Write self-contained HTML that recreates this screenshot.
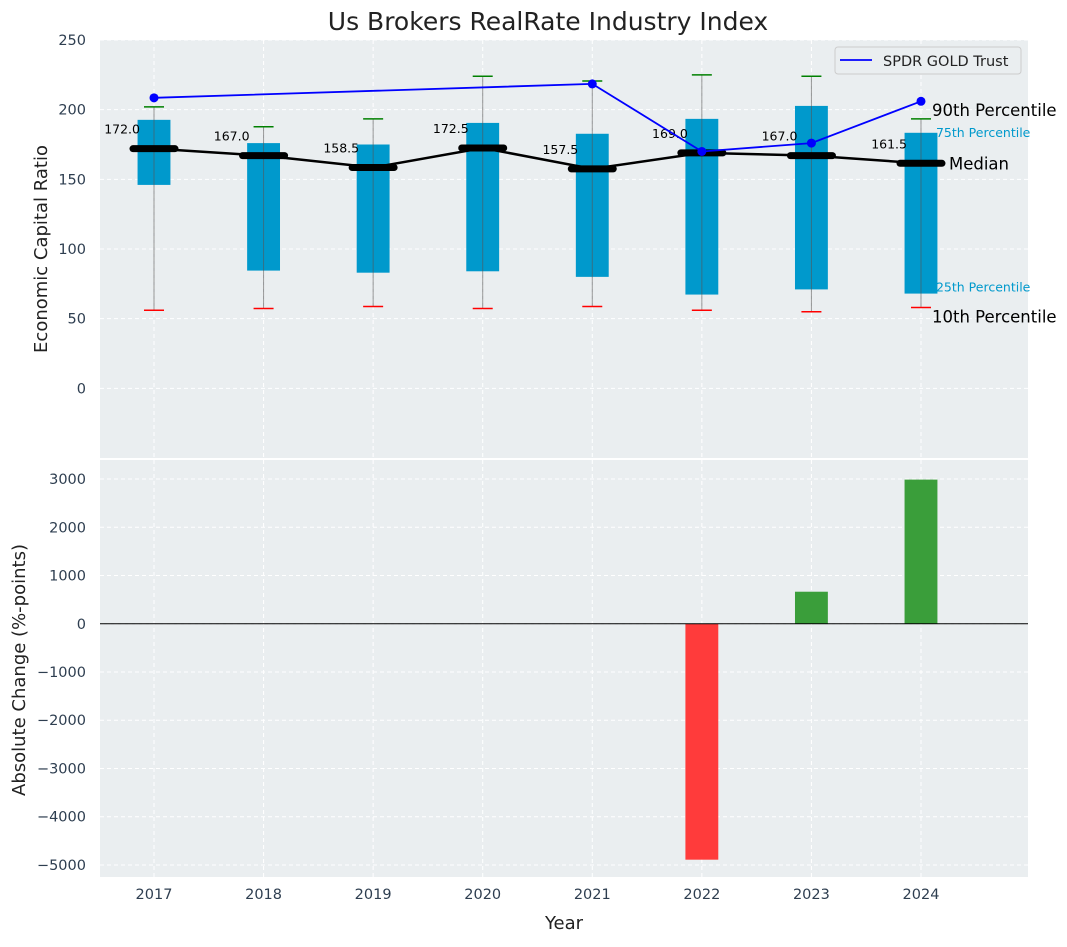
<!DOCTYPE html>
<html><head><meta charset="utf-8"><style>
body{margin:0;background:#fff;font-family:"Liberation Sans","DejaVu Sans",sans-serif}
svg text{font-family:"DejaVu Sans","Liberation Sans",sans-serif}
</style></head><body>
<svg id="c" width="1067" height="942" xmlns="http://www.w3.org/2000/svg"></svg>
<script>
const years=[2017,2018,2019,2020,2021,2022,2023,2024];
const p10=[56,57.3,58.7,57.3,58.7,56,55,58];
const p25=[146,84.5,83,84,80,67.3,71,68];
const median=[172.0,167.0,158.5,172.5,157.5,169.0,167.0,161.5];
const p75=[192.7,176,175,190.5,182.7,193.4,202.7,183.4];
const p90=[202,187.7,193.4,224,220.6,225,224,193.4];
const goldYears=[2017,2021,2022,2023,2024];
const goldVals=[208.5,218.5,170,176,206];
const changeYears=[2022,2023,2024];
const changeVals=[-4890,664,2988];
const topTicks=[0,50,100,150,200,250];
const botTicks=[-5000,-4000,-3000,-2000,-1000,0,1000,2000,3000];

const NS="http://www.w3.org/2000/svg";
const svg=document.getElementById('c');
function el(t,a,p){const e=document.createElementNS(NS,t);for(const k in a)e.setAttribute(k,a[k]);(p||svg).appendChild(e);return e;}
const L=100,R=1028,T1=40,B1=458,T2=460,B2=877;
const pxw=109.57;
const x=v=>154+(v-2017)*pxw;
const y1=v=>B1-(v+50)/300*(B1-T1);
const y2=v=>B2-(v+5249)/(3394+5249)*(B2-T2);

let r=el('rect',{x:L,y:T1,width:R-L,height:B1-T1,fill:'#eaeef0'});

r=el('rect',{x:L,y:T2,width:R-L,height:B2-T2,fill:'#eaeef0'});


years.forEach(v=>{
 el('line',{x1:x(v),x2:x(v),y1:T1,y2:B1,stroke:'#fff','stroke-dasharray':'4,3','stroke-width':1});
 el('line',{x1:x(v),x2:x(v),y1:T2,y2:B2,stroke:'#fff','stroke-dasharray':'4,3','stroke-width':1});
 const t=el('text',{x:x(v),y:B2+22,'text-anchor':'middle','font-size':14.5,fill:'#2e3e50'});t.textContent=v;
 
});
topTicks.forEach(v=>{
 el('line',{x1:L,x2:R,y1:y1(v),y2:y1(v),stroke:'#fff','stroke-dasharray':'4,3','stroke-width':1});
 const t=el('text',{x:L-14,y:y1(v)+5,'text-anchor':'end','font-size':14.5,fill:'#2e3e50'});t.textContent=v;
 
});
botTicks.forEach(v=>{
 el('line',{x1:L,x2:R,y1:y2(v),y2:y2(v),stroke:'#fff','stroke-dasharray':'4,3','stroke-width':1});
 const t=el('text',{x:L-14,y:y2(v)+5,'text-anchor':'end','font-size':14.5,fill:'#2e3e50'});t.textContent=(v<0?'\u2212'+(-v):v);
 
});

years.forEach((v,i)=>{
 const cx=x(v),hw=0.15*pxw;
 const b=el('rect',{x:cx-hw,y:y1(p75[i]),width:2*hw,height:y1(p25[i])-y1(p75[i]),fill:'#0099cc'});
 
 el('line',{x1:cx,x2:cx,y1:y1(p90[i]),y2:y1(p10[i]),stroke:'#555','stroke-opacity':0.6,'stroke-width':1});
 el('line',{x1:cx-10,x2:cx+10,y1:y1(p90[i]),y2:y1(p90[i]),stroke:'green','stroke-width':1.5});
 el('line',{x1:cx-10,x2:cx+10,y1:y1(p10[i]),y2:y1(p10[i]),stroke:'red','stroke-width':1.5});
});
const mp=el('polyline',{points:years.map((v,i)=>x(v)+','+y1(median[i])).join(' '),fill:'none',stroke:'#000','stroke-width':2.5});

years.forEach((v,i)=>{
 const cx=x(v);
 const m=el('line',{x1:cx-21,x2:cx+21,y1:y1(median[i]),y2:y1(median[i]),stroke:'#000','stroke-width':7,'stroke-linecap':'round'});
 
 const t=el('text',{x:cx-14,y:y1(median[i])-15,'text-anchor':'end','font-size':12.5,fill:'#000'});t.textContent=median[i].toFixed(1);
 
});
const gl=el('polyline',{points:goldYears.map((v,i)=>x(v)+','+y1(goldVals[i])).join(' '),fill:'none',stroke:'#0000ff','stroke-width':1.8});

goldYears.forEach((v,i)=>{const c=el('circle',{cx:x(v),cy:y1(goldVals[i]),r:4.5,fill:'#0000ff'});
 });

const last=years.length-1,lx=x(years[last]);
[['90th Percentile',p90[last],11,16.5,'#000',-3],['75th Percentile',p75[last],15,12.5,'#0099cc',4],['Median',median[last],28,16.5,'#000',6],['25th Percentile',p25[last],15,12.5,'#0099cc',-2],['10th Percentile',p10[last],11,16.5,'#000',15]].forEach(a=>{
 const t=el('text',{x:lx+a[2],y:y1(a[1])+a[5],'font-size':a[3],fill:a[4]});t.textContent=a[0];
 
});

const lg=el('g',{});
el('rect',{x:835,y:47,width:186,height:27,rx:3,fill:'#eaeef0',stroke:'#ccc'},lg);
el('line',{x1:840,x2:872,y1:60,y2:60,stroke:'#0000ff','stroke-width':1.8},lg);
const lt=el('text',{x:883,y:66,'font-size':14.5,fill:'#222'},lg);lt.textContent='SPDR GOLD Trust';

changeYears.forEach((v,i)=>{
 const val=changeVals[i],hw=0.15*pxw;
 const b=el('rect',{x:x(v)-hw,y:Math.min(y2(val),y2(0)),width:2*hw,height:Math.abs(y2(val)-y2(0)),fill:val<0?'#ff3b3b':'#3a9e3a'});
 
});
el('line',{x1:L,x2:R,y1:y2(0),y2:y2(0),stroke:'#000','stroke-width':1});

let t=el('text',{x:548,y:30,'text-anchor':'middle','font-size':25,fill:'#222'});t.textContent='Us Brokers RealRate Industry Index';

t=el('text',{x:564,y:929,'text-anchor':'middle','font-size':18,fill:'#222'});t.textContent='Year';

t=el('text',{x:0,y:0,'text-anchor':'middle','font-size':18,fill:'#222',transform:'translate(47,249) rotate(-90)'});t.textContent='Economic Capital Ratio';

t=el('text',{x:0,y:0,'text-anchor':'middle','font-size':18,fill:'#222',transform:'translate(25,670) rotate(-90)'});t.textContent='Absolute Change (%-points)';

</script>
</body></html>
